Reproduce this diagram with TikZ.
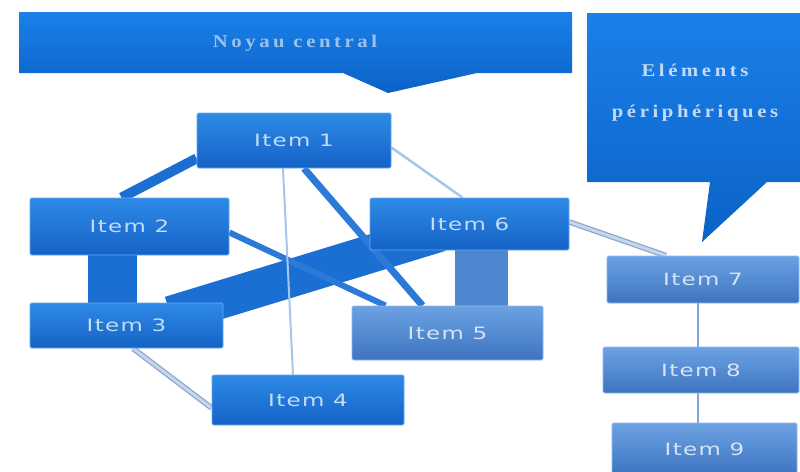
\documentclass[tikz,border=0pt]{standalone}
\usepackage{fontspec}
\newfontfamily\itemfont[FakeStretch=1.35,LetterSpace=8]{DejaVu Sans}
\newfontfamily\titlefont[FakeStretch=1.15,LetterSpace=20]{Liberation Serif}
\definecolor{bannertop}{HTML}{1A80EA}
\definecolor{bannerbot}{HTML}{0B62C6}
\definecolor{bannertext}{HTML}{9CC2EE}
\definecolor{calltext}{HTML}{C4DAF4}
\definecolor{atop}{HTML}{2E8AE6}
\definecolor{abot}{HTML}{1562C6}
\definecolor{aline}{HTML}{62AAF2}
\definecolor{atext}{HTML}{C4DCF6}
\definecolor{btop}{HTML}{6CA2E2}
\definecolor{bbot}{HTML}{3E74C0}
\definecolor{bline}{HTML}{8CBAEE}
\definecolor{btext}{HTML}{D6E4F6}
\definecolor{bandA}{HTML}{1C6FD2}
\definecolor{bandB}{HTML}{2C7AD8}
\definecolor{bandC}{HTML}{4E86D0}
\definecolor{thinline}{HTML}{A6C6EE}
\definecolor{palebandedge}{HTML}{8CA6CC}
\definecolor{paleband}{HTML}{C6D6EC}
\definecolor{chainline}{HTML}{7EA8DC}
\pgfdeclarelayer{back}
\pgfdeclarelayer{bg}
\pgfsetlayers{back,bg,main}
\tikzset{
  itembase/.style={rectangle, rounded corners=1.5pt, inner sep=0pt, line width=0.8pt,
    font=\itemfont\fontsize{17}{20}\selectfont},
  itemA/.style={itembase, top color=atop, bottom color=abot, draw=aline, text=atext},
  itemB/.style={itembase, top color=btop, bottom color=bbot, draw=bline, text=btext},
  band/.style={line cap=butt},
  titletext/.style={font=\titlefont\bfseries\fontsize{18}{21}\selectfont}
}
\begin{document}
\begin{tikzpicture}[x=1pt,y=-1pt]
\path[use as bounding box, clip] (0,0) rectangle (800,471);
\begin{pgfonlayer}{back}
\fill[white] (0,0) rectangle (800,471);
\end{pgfonlayer}
% banner
\path[top color=bannertop, bottom color=bannerbot]
  (19,12) -- (572,12) -- (572,73) -- (477,73) -- (388,93) -- (343,73) -- (19,73) -- cycle;
\node[titletext, text=bannertext] (noyau) at (295,43) {Noyau central};
% callout
\path[top color=bannertop, bottom color=bannerbot]
  (587,13) -- (805,13) -- (805,182) -- (767,182) -- (702,242) -- (710,182) -- (587,182) -- cycle;
\node[titletext, text=calltext] (elem) at (695,70) {Eléments};
\node[titletext, text=calltext] (peri) at (695,113) {périphériques};
% items
\node[itemA, minimum width=194pt, minimum height=55pt] (i1) at (294,140.5) {Item 1};
\node[itemA, minimum width=199pt, minimum height=57pt] (i2) at (129.5,226.5) {Item 2};
\node[itemA, minimum width=193pt, minimum height=45pt] (i3) at (126.5,325.5) {Item 3};
\node[itemA, minimum width=192pt, minimum height=50pt] (i4) at (308,400) {Item 4};
\node[itemB, minimum width=191pt, minimum height=54pt] (i5) at (447.5,333) {Item 5};
\node[itemA, minimum width=199pt, minimum height=52pt] (i6) at (469.5,224) {Item 6};
\node[itemB, minimum width=192pt, minimum height=47pt] (i7) at (703,279.5) {Item 7};
\node[itemB, minimum width=196pt, minimum height=46pt] (i8) at (701,370) {Item 8};
\node[itemB, minimum width=185pt, minimum height=52pt] (i9) at (704.5,449) {Item 9};
\begin{pgfonlayer}{bg}
% wide bands
\draw[band, bandA, line width=49pt] ([xshift=-17pt]i2.south) -- ([xshift=-14pt]i3.north);
\draw[band, bandC, line width=53pt] ([xshift=12pt]i6.south) -- ([xshift=34pt]i5.north);
\draw[band, bandA, line width=38pt] ([xshift=44pt,yshift=10.5pt]i3.center) -- ([xshift=-29.5pt,yshift=-8.7pt]i6.center);
\draw[band, bandA, line width=10pt] ([xshift=-8pt]i2.north) -- ([yshift=10pt]i1.south west);
\draw[band, bandB, line width=7pt] ([xshift=10pt]i1.south) -- ([xshift=-25pt]i5.north);
\draw[band, bandB, line width=6pt] ([yshift=-6pt]i2.east) -- ([xshift=-62pt]i5.north);
% thin lines
\draw[thinline, line width=2pt] ([xshift=-11pt]i1.south) -- ([xshift=-15pt]i4.north);
\draw[thinline, line width=2.5pt] ([yshift=-7pt]i1.east) -- ([xshift=-7pt]i6.north);
% pale bands
\draw[band, palebandedge, line width=5.5pt] ([yshift=2pt]i6.east) -- ([xshift=-37pt]i7.north);
\draw[band, paleband, line width=3pt] ([yshift=2pt]i6.east) -- ([xshift=-37pt]i7.north);
\draw[band, palebandedge, line width=5.5pt] ([xshift=6.5pt]i3.south) -- ([yshift=-8pt]i4.west);
\draw[band, paleband, line width=3pt] ([xshift=6.5pt]i3.south) -- ([yshift=-8pt]i4.west);
% chain
\draw[chainline, line width=2pt] ([xshift=-5pt]i7.south) -- ([xshift=-3pt]i8.north);
\draw[chainline, line width=2pt] ([xshift=-3pt]i8.south) -- ([xshift=-6.5pt]i9.north);
\end{pgfonlayer}
\end{tikzpicture}
\end{document}
